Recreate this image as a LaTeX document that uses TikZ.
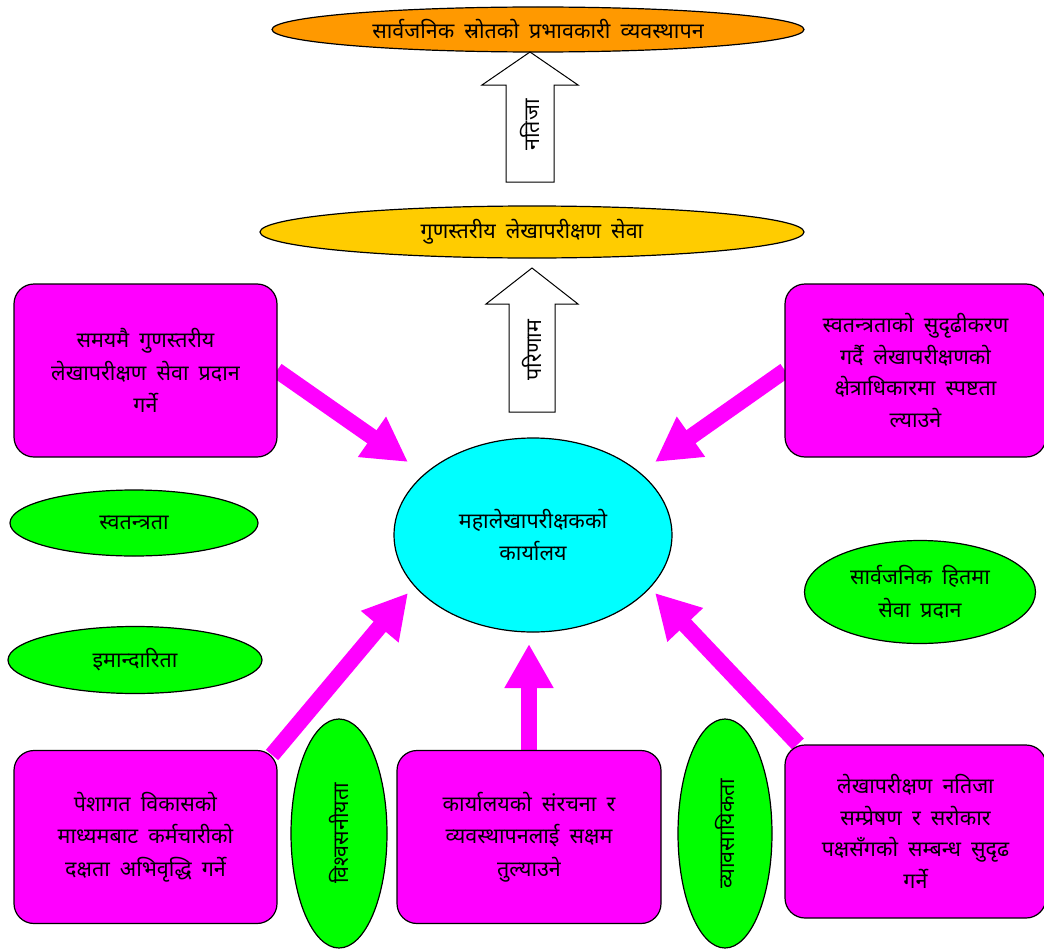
\documentclass[tikz,border=0pt]{standalone}
\usepackage{fontspec}
\newfontfamily\dev[Script=Devanagari,WordSpace=1.8]{Noto Sans}
\usetikzlibrary{arrows.meta,shapes.geometric}
\definecolor{mag}{HTML}{FF00FF}
\definecolor{cyn}{HTML}{00FFFF}
\definecolor{grn}{HTML}{00FF00}
\definecolor{org}{HTML}{FF9900}
\definecolor{ylw}{HTML}{FFCC00}
\tikzset{
  txt/.style={font=\dev\fontsize{21.5}{32.5}\selectfont, align=center},
  ell/.style={ellipse, draw=black, line width=1.2pt, inner sep=0pt, txt},
  box/.style={rectangle, rounded corners=20pt, draw=black, line width=1.2pt, fill=mag, inner sep=0pt, txt, minimum width=263pt, minimum height=173pt},
  blockarrow/.style={draw=black, line width=1pt, fill=white},
  magarrow/.style={draw=mag, line width=16pt, -{Triangle[length=44pt,width=46pt]}},
}
\begin{document}
\begin{tikzpicture}[x=1pt,y=-1pt]
\useasboundingbox (0,0) rectangle (1044,950);
% tips of the magenta arrows
\coordinate (t1) at (408,462);
\coordinate (t2) at (655,462);
\coordinate (t3) at (408,593);
\coordinate (t4) at (529,644);
\coordinate (t5) at (655,593);
% start points at the boxes
\coordinate (tlc) at (277,370.5);
\coordinate (trc) at (785,370.5);
\coordinate (blc) at (272,755);
\coordinate (bcc) at (529,750);
\coordinate (brc) at (798,744);
\draw[magarrow] (tlc) -- (t1);
\draw[magarrow] (trc) -- (t2);
\draw[magarrow] (blc) -- (t3);
\draw[magarrow] (bcc) -- (t4);
\draw[magarrow] (brc) -- (t5);

\node[ell, fill=org, minimum width=532pt, minimum height=45pt] (top) at (538,29.5) {सार्वजनिक स्रोतको प्रभावकारी व्यवस्थापन};
\node[ell, fill=ylw, minimum width=544pt, minimum height=52pt] (mid) at (532,232) {गुणस्तरीय लेखापरीक्षण सेवा};

\draw[blockarrow] (506,182) -- (506,85) -- (482,85) -- (530,52) -- (578,85) -- (554,85) -- (554,182) -- cycle;
\node[txt, rotate=90] (l1) at (530,125) {नतिजा};
\draw[blockarrow] (509,412) -- (509,304) -- (486,304) -- (532,268) -- (578,304) -- (555,304) -- (555,412) -- cycle;
\node[txt, rotate=90] (l2) at (532,350) {परिणाम};

\node[ell, fill=cyn, minimum width=278pt, minimum height=194pt] (center) at (533,535) {महालेखापरीक्षकको\\कार्यालय};

\node[box] (tl) at (145.5,370.5) {समयमै गुणस्तरीय\\लेखापरीक्षण सेवा प्रदान\\गर्ने};
\node[box, minimum width=261pt, font=\dev\fontsize{21.5}{31.5}\selectfont] (tr) at (915.5,370.5) {स्वतन्त्रताको सुदृढीकरण\\गर्दै लेखापरीक्षणको\\क्षेत्राधिकारमा स्पष्टता\\ल्याउने};
\node[box] (bl) at (145.5,837) {पेशागत विकासको\\माध्यमबाट कर्मचारीको\\दक्षता अभिवृद्धि गर्ने};
\node[box, minimum width=264pt] (bc) at (529,837) {कार्यालयको संरचना र\\व्यवस्थापनलाई सक्षम\\तुल्याउने};
\node[box, minimum width=261pt, font=\dev\fontsize{21.5}{31.5}\selectfont] (br) at (915.5,831.5) {लेखापरीक्षण नतिजा\\सम्प्रेषण र सरोकार\\पक्षसँगको सम्बन्ध सुदृढ\\गर्ने};

\node[ell, fill=grn, minimum width=248pt, minimum height=66pt] (g1) at (134,523) {स्वतन्त्रता};
\node[ell, fill=grn, minimum width=254pt, minimum height=67pt] (g2) at (135,660) {इमान्दारिता};
\node[ell, fill=grn, minimum width=231pt, minimum height=103pt] (g3) at (920,592) {सार्वजनिक हितमा\\सेवा प्रदान};
\node[ell, fill=grn, minimum width=96pt, minimum height=229pt] (g4) at (339,833.5) {};
\node[txt, rotate=90] (g4t) at (g4) {विश्वसनीयता};
\node[ell, fill=grn, minimum width=94pt, minimum height=229pt] (g5) at (725,833.5) {};
\node[txt, rotate=90] (g5t) at (g5) {व्यावसायिकता};
\end{tikzpicture}
\end{document}
